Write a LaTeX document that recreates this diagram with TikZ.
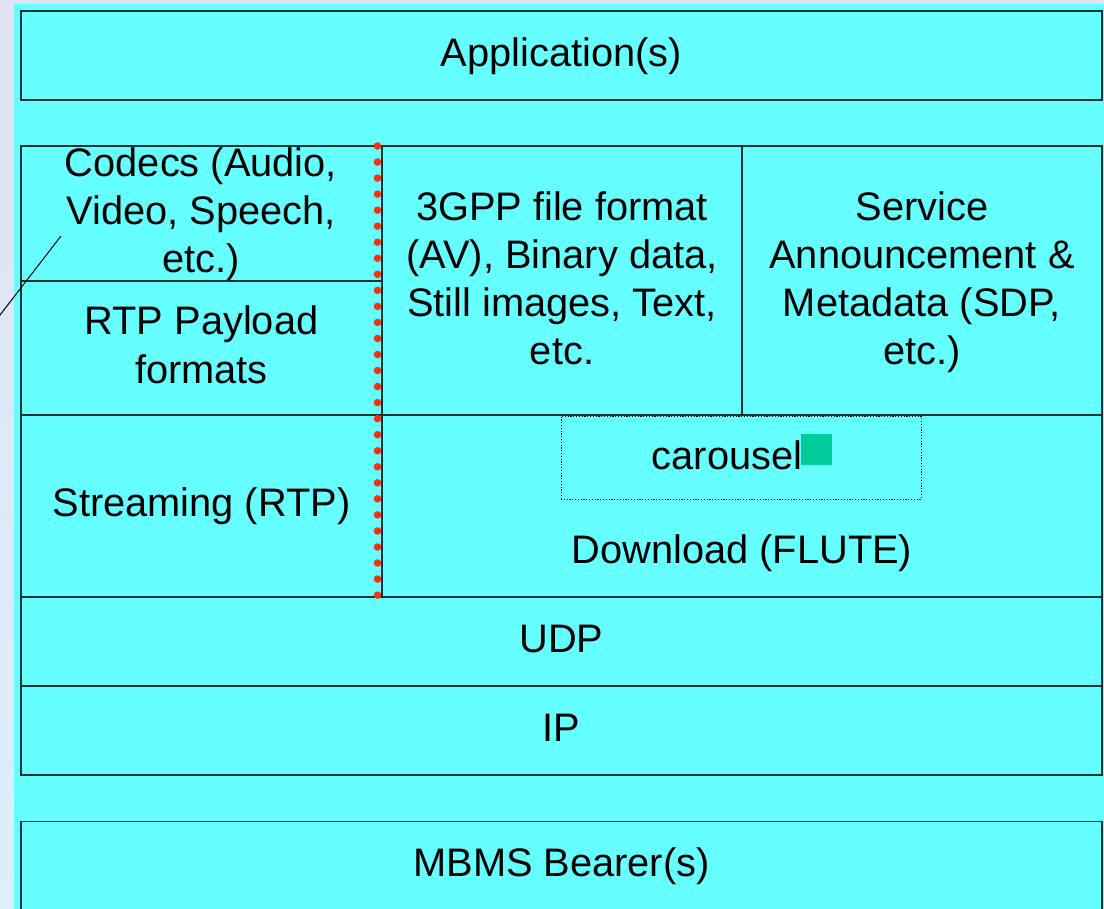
\documentclass[tikz,border=0pt]{standalone}
\usepackage{fontspec}
\setmainfont{Liberation Sans}
\definecolor{cyanbg}{RGB}{102,255,255}
\definecolor{edge}{RGB}{25,50,50}
\definecolor{reddot}{RGB}{250,50,10}
\definecolor{greensq}{RGB}{0,204,153}
\definecolor{lavtop}{RGB}{224,226,240}
\definecolor{lavbot}{RGB}{220,238,255}
\tikzset{
  box/.style={draw=edge, line width=1.7pt, fill=cyanbg, rectangle, inner sep=0pt},
  lbl/.style={inner sep=0pt, align=center, anchor=base, font=\fontsize{39.8}{48.3}\selectfont},
  dotbox/.style={draw=black, line width=0.8pt, dash pattern=on 1.2pt off 1.6pt, rectangle, inner sep=0pt},
}
\begin{document}
\begin{tikzpicture}[x=1pt,y=-1pt]
\useasboundingbox (0,0) rectangle (1104,909);
\clip (0,0) rectangle (1104,909);
\shade[top color=lavtop, bottom color=lavbot] (0,0) rectangle (1104,909);
\fill[cyanbg] (14,4) rectangle (1104,909);

\node[box, minimum width=1081pt, minimum height=89pt] (app) at (561.5,55.5) {};
\node[lbl] (apptext) at (561.5,66.7) {Application(s)};

\node[box, minimum width=361pt, minimum height=135pt] (codecs) at (201.5,213.5) {};
\node[lbl] (codecstext) at (201,272.7) {Codecs (Audio,\\Video, Speech,\\etc.)};
\node[box, minimum width=361pt, minimum height=134pt] (rtppay) at (201.5,348) {};
\node[lbl] (rtppaytext) at (201.5,383.3) {RTP Payload\\formats};
\node[box, minimum width=360pt, minimum height=269pt] (gpp) at (562,280.5) {};
\node[lbl] (gpptext) at (562,365) {3GPP file format\\(AV), Binary data,\\Still images, Text,\\etc.};
\node[box, minimum width=360pt, minimum height=269pt] (sa) at (922,280.5) {};
\node[lbl] (satext) at (922,365) {Service\\Announcement \&\\Metadata (SDP,\\etc.)};

\node[box, minimum width=361pt, minimum height=182pt] (stream) at (201.5,506) {};
\node[lbl] (streamtext) at (201.5,516.7) {Streaming (RTP)};
\node[box, minimum width=720pt, minimum height=182pt] (dl) at (742,506) {};
\node[lbl] (dltext) at (742,563.3) {Download (FLUTE)};
\node[dotbox, minimum width=360pt, minimum height=83pt] (car) at (741,457.5) {};
\node[lbl] (cartext) at (727,470) {carousel};
\fill[greensq] (801,434) rectangle (832,465);

\node[box, minimum width=1081pt, minimum height=89pt] (udp) at (561.5,641.5) {};
\node[lbl] (udptext) at (561.5,652.3) {UDP};
\node[box, minimum width=1081pt, minimum height=89pt] (ip) at (561.5,730.5) {};
\node[lbl] (iptext) at (561.5,741.7) {IP};
\node[box, minimum width=1081pt, minimum height=89pt] (mbms) at (561.5,866) {};
\node[lbl] (mbmstext) at (561.5,876.7) {MBMS Bearer(s)};

\foreach \i in {0,...,28} {
  \fill[reddot] (377.5,{146+\i*16.04}) circle (3.8pt);
}

\coordinate (c1) at (61,236);
\coordinate (c2) at (-5,321.5);
\draw[black, line width=1pt] (c1) -- (c2);
\end{tikzpicture}
\end{document}
